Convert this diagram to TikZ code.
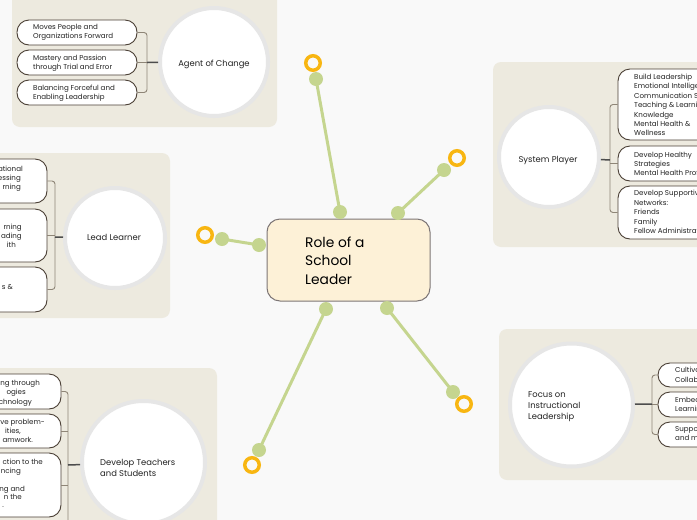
\documentclass[tikz,border=0pt]{standalone}
\usepackage{fontspec}
\setmainfont{Poppins}
\definecolor{bgc}{HTML}{F9F9F9}
\definecolor{panelc}{HTML}{EDEADF}
\definecolor{circc}{HTML}{E6E6E6}
\definecolor{boxc}{HTML}{4A3F35}
\definecolor{brkc}{HTML}{8E8577}
\definecolor{stemc}{HTML}{4D4D4D}
\definecolor{linkc}{HTML}{C5D58F}
\definecolor{ringc}{HTML}{F8B612}
\definecolor{centf}{HTML}{FDF1D7}
\definecolor{centb}{HTML}{7D7676}
\definecolor{txtc}{HTML}{222222}
\begin{document}
\begin{tikzpicture}[x=1pt,y=-1pt,
  panel/.style={fill=panelc, rounded corners=8pt},
  topic/.style={circle, fill=white, draw=circc, line width=4pt, inner sep=0pt},
  subbox/.style={draw=boxc, fill=white, rounded corners=12pt, line width=0.9pt, inner sep=0pt},
  stxt/.style={font=\fontsize{7.1}{9.4}\selectfont, align=left, inner sep=0pt, anchor=west, text=txtc},
  frag/.style={font=\fontsize{7.1}{9.4}\selectfont, inner sep=0pt, anchor=base east, text=txtc},
  ttxt/.style={font=\fontsize{8.4}{11}\selectfont, align=left, inner sep=0pt, text=txtc},
  brk/.style={draw=brkc, line width=0.9pt, rounded corners=3pt},
  stem/.style={draw=stemc, line width=1.5pt},
  link/.style={draw=linkc, line width=3pt},
  dot/.style={circle, fill=linkc, minimum size=14pt, inner sep=0pt},
  ring/.style={circle, draw=ringc, line width=3.5pt, minimum size=14.5pt, inner sep=0pt}]
\useasboundingbox (0,0) rectangle (697,520);
\clip (0,0) rectangle (697,520);
\fill[bgc] (0,0) rectangle (697,520);

% panels
\fill[panel] (12,-10) rectangle (277,127);
\fill[panel] (-10,153) rectangle (170,318);
\fill[panel] (-10,368) rectangle (217,530);
\fill[panel] (493,62) rectangle (710,247);
\fill[panel] (499,329) rectangle (710,480);

% ---------- Agent of Change ----------
\node[subbox, minimum width=120pt, minimum height=25pt] (a1) at (77,32.5) {};
\node[subbox, minimum width=120pt, minimum height=25pt] (a2) at (77,62.5) {};
\node[subbox, minimum width=120pt, minimum height=25pt] (a3) at (77,92.5) {};
\node[topic, minimum size=108pt] (ac) at (214,62) {};
\coordinate (aj) at (147,62.5);
\draw[brk] (a1.east) -- (147,32.5) -- (147,92.5) -- (a3.east);
\draw[brk] (a2.east) -- (aj);
\draw[stem] (aj) -- (ac);
\node[stxt] (a1t) at (33,32.5) {Moves People and\\Organizations Forward};
\node[stxt] (a2t) at (33,63) {Mastery and Passion\\through Trial and Error};
\node[stxt] (a3t) at (33,93.5) {Balancing Forceful and\\Enabling Leadership};
\node[ttxt] (act) at (214,64) {Agent of Change};

% ---------- Lead Learner ----------
\node[subbox, minimum width=77pt, minimum height=44pt] (l1) at (8.5,181) {};
\node[subbox, minimum width=77pt, minimum height=53pt] (l2) at (8.5,235.5) {};
\node[subbox, minimum width=77pt, minimum height=45pt] (l3) at (8.5,289.5) {};
\node[topic, minimum size=100pt] (lc) at (115,238) {};
\coordinate (lj) at (55,237);
\draw[brk] (l1.east) -- (55,181) -- (55,289.5) -- (l3.east);
\draw[brk] (l2.east) -- (55,235.5);
\draw[stem] (lj) -- (lc);
\node[frag] (l1a) at (23,171) {tational};
\node[frag] (l1b) at (21,180) {essing};
\node[frag] (l1c) at (21,189.5) {rning};
\node[frag] (l2a) at (22,229) {rning};
\node[frag] (l2b) at (22,238.5) {ading};
\node[frag] (l2c) at (16,247) {ith};
\node[frag] (l3a) at (13,289) {s \&};
\node[ttxt] (lct) at (114,237) {Lead Learner};

% ---------- Develop Teachers and Students ----------
\node[subbox, minimum width=91pt, minimum height=35pt] (d1) at (15.5,391.5) {};
\node[subbox, minimum width=91pt, minimum height=34pt] (d2) at (15.5,431) {};
\node[subbox, minimum width=91pt, minimum height=64pt] (d3) at (15.5,485) {};
\node[topic, minimum size=123pt] (dc) at (143.5,462.5) {};
\coordinate (dj) at (68,465);
\draw[brk] (d1.east) -- (68,391.5) -- (68,540);
\draw[brk] (d2.east) -- (68,431);
\draw[brk] (d3.east) -- (68,485);
\draw[stem] (dj) -- (dc);
\node[frag] (d1a) at (40,385.5) {ng through};
\node[frag] (d1b) at (26,394.5) {ogies};
\node[frag] (d1c) at (32,404) {chnology};
\node[frag] (d2a) at (45,424) {ve problem-};
\node[frag] (d2b) at (21,433) {ities,};
\node[frag] (d2c) at (33,442) {amwork.};
\node[frag] (d3a) at (43,464.5) {ction to the};
\node[frag] (d3b) at (21,473.5) {ncing};
\node[frag] (d3c) at (25,491.5) {ng and};
\node[frag] (d3d) at (22,499.5) {n the};
\node[frag] (d3e) at (4,507.5) {.};
\node[ttxt, anchor=west] (dct) at (100,467.5) {Develop Teachers\\and Students};

% ---------- System Player ----------
\node[subbox, minimum width=102pt, minimum height=71pt] (s1) at (669,104.5) {};
\node[subbox, minimum width=102pt, minimum height=35pt] (s2) at (669,163.5) {};
\node[subbox, minimum width=102pt, minimum height=53pt] (s3) at (669,212.5) {};
\node[topic, minimum size=100pt] (sc) at (549,157) {};
\coordinate (sj) at (610,160);
\draw[brk] (s1.west) -- (610,104.5) -- (610,212.5) -- (s3.west);
\draw[brk] (s2.west) -- (610,163.5);
\draw[stem] (sj) -- (sc);
\node[stxt] (s1t) at (634,105) {Build Leadership\\Emotional Intelligence\\Communication Skills\\Teaching \& Learning\\Knowledge\\Mental Health \&\\Wellness};
\node[stxt] (s2t) at (634,164) {Develop Healthy\\Strategies\\Mental Health Professionals};
\node[stxt] (s3t) at (634,212) {Develop Supportive\\Networks:\\Friends\\Family\\Fellow Administrators};
\node[ttxt] (sct) at (548,160) {System Player};

% ---------- Focus on Instructional Leadership ----------
\node[subbox, minimum width=62pt, minimum height=24pt] (f1) at (689,375) {};
\node[subbox, minimum width=62pt, minimum height=25pt] (f2) at (689,404.5) {};
\node[subbox, minimum width=62pt, minimum height=25pt] (f3) at (689,434.5) {};
\node[topic, minimum size=123pt] (fc) at (571.5,405) {};
\coordinate (fj) at (652,404);
\draw[brk] (f1.west) -- (652,375) -- (652,434.5) -- (f3.west);
\draw[brk] (f2.west) -- (652,404.5);
\draw[stem] (fj) -- (fc);
\node[stxt] (f1t) at (675,375) {Cultivate a Culture of\\Collaboration};
\node[stxt] (f2t) at (675,405) {Embedded Professional\\Learning};
\node[stxt] (f3t) at (675,434.5) {Support Teachers\\and mentoring};
\node[ttxt, anchor=west] (fct) at (528,407) {Focus on\\Instructional\\Leadership};

% ---------- central topic ----------
\node[draw=centb, fill=centf, rounded corners=13pt, line width=1pt,
      minimum width=163pt, minimum height=82pt, inner sep=0pt] (root) at (348.5,260) {};
\node[font=\fontsize{13.8}{18.5}\selectfont, align=left, inner sep=0pt, anchor=west, text=black]
  (roott) at (305,260.5) {Role of a\\School\\Leader};

% connectors
\node[dot] (c1) at (340,212) {};
\node[dot] (o1) at (316,79) {};
\node[ring] (r1) at (313,63) {};
\node[dot] (c2) at (398,213) {};
\node[dot] (o2) at (444,170) {};
\node[ring] (r2) at (457,158) {};
\node[dot] (c3) at (259,245) {};
\node[dot] (o3) at (222,239) {};
\node[ring] (r3) at (205,235) {};
\node[dot] (c4) at (326,309) {};
\node[dot] (o4) at (259,450) {};
\node[ring] (r4) at (252,465) {};
\node[dot] (c5) at (387,308) {};
\node[dot] (o5) at (453,392) {};
\node[ring] (r5) at (464,404) {};
\draw[link] (c1.center) -- (o1.center);
\draw[link] (c2.center) -- (o2.center);
\draw[link] (c3.center) -- (o3.center);
\draw[link] (c4.center) -- (o4.center);
\draw[link] (c5.center) -- (o5.center);
\end{tikzpicture}
\end{document}
